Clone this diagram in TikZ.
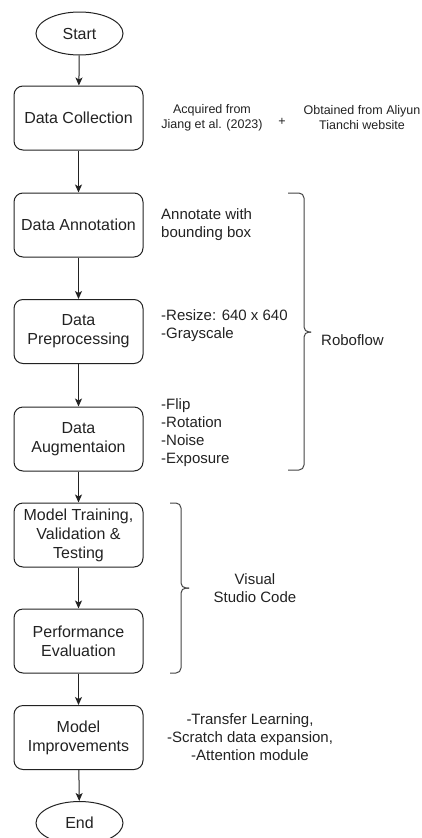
\documentclass[tikz,border=0pt]{standalone}
\usepackage{fontspec}
\setmainfont{Liberation Sans}
\usetikzlibrary{shapes.geometric,arrows.meta}
\definecolor{ink}{HTML}{222222}
\definecolor{bracegray}{HTML}{444444}
\tikzset{
  stepbox/.style={draw=ink, line width=1pt, rounded corners=9pt, minimum width=129pt,
    minimum height=64pt, inner sep=2pt, align=center, text=ink,
    font=\fontsize{16}{19}\selectfont},
  terminal/.style={draw=ink, line width=1pt, ellipse, minimum width=87pt,
    minimum height=43pt, inner sep=0pt, text=ink, font=\fontsize{16}{19}\selectfont},
  flow/.style={draw=ink, line width=1pt, -{Stealth[length=8pt,width=7pt,inset=2pt]}},
  note/.style={text=ink, inner sep=0pt, font=\fontsize{15}{18}\selectfont},
  smallnote/.style={text=ink, inner sep=0pt, align=center, font=\fontsize{12.5}{15}\selectfont},
  bracket/.style={draw=bracegray, line width=1pt, rounded corners=5pt}
}
\begin{document}
\begin{tikzpicture}[x=1pt,y=-1pt]
\useasboundingbox (0,0) rectangle (422,838);

% main flow
\node[terminal] (start) at (79.5,33.5) {Start};
\node[stepbox] (collect) at (78.5,118) {Data Collection};
\node[stepbox] (annot) at (78.5,225) {Data Annotation};
\node[stepbox] (prep) at (78.5,331.5) {Data\\Preprocessing};
\node[stepbox] (augm) at (78.5,439) {Data\\Augmentaion};
\node[stepbox] (train) at (78.5,535) {Model Training,\\Validation \&\\Testing};
\node[stepbox] (perf) at (78.5,641) {Performance\\Evaluation};
\node[stepbox] (improve) at (78.5,737.5) {Model\\Improvements};
\node[terminal] (finish) at (79.5,823) {End};

\draw[flow] (start) -- (collect);
\draw[flow] (collect) -- (annot);
\draw[flow] (annot) -- (prep);
\draw[flow] (prep) -- (augm);
\draw[flow] (augm) -- (train);
\draw[flow] (train) -- (perf);
\draw[flow] (perf) -- (improve);
\draw[flow] (improve) -- (finish);

% data sources
\node[smallnote] (srcA) at (212,118) {Acquired from\\Jiang et al. (2023)};
\node[smallnote] (plus) at (282,122) {+};
\node[smallnote] (srcB) at (362,118) {Obtained from Aliyun\\Tianchi website};

% step details
\node[note, anchor=west, align=left] (annotinfo) at (161,225) {Annotate with\\bounding box};
\node[note, anchor=west, align=left] (prepinfo) at (161,326) {-Resize: 640 x 640\\-Grayscale};
\node[note, anchor=west, align=left] (augminfo) at (161,433) {-Flip\\-Rotation\\-Noise\\-Exposure};
\node[note, align=center] (impinfo) at (250,737) {-Transfer Learning,\\-Scratch data expansion,\\-Attention module};

% Roboflow bracket
\draw[bracket] (288,193) -- (304,193) -- (304,332) -- (311,332);
\draw[bracket] (288,470) -- (304,470) -- (304,332) -- (311,332);
\node[note, anchor=west] (robo) at (321,340) {Roboflow};

% Visual Studio Code bracket
\draw[bracket] (170,503) -- (181,503) -- (181,588) -- (189,588);
\draw[bracket] (170,673) -- (181,673) -- (181,588) -- (189,588);
\node[note, align=center] (vsc) at (255,588) {Visual\\Studio Code};
\end{tikzpicture}
\end{document}
